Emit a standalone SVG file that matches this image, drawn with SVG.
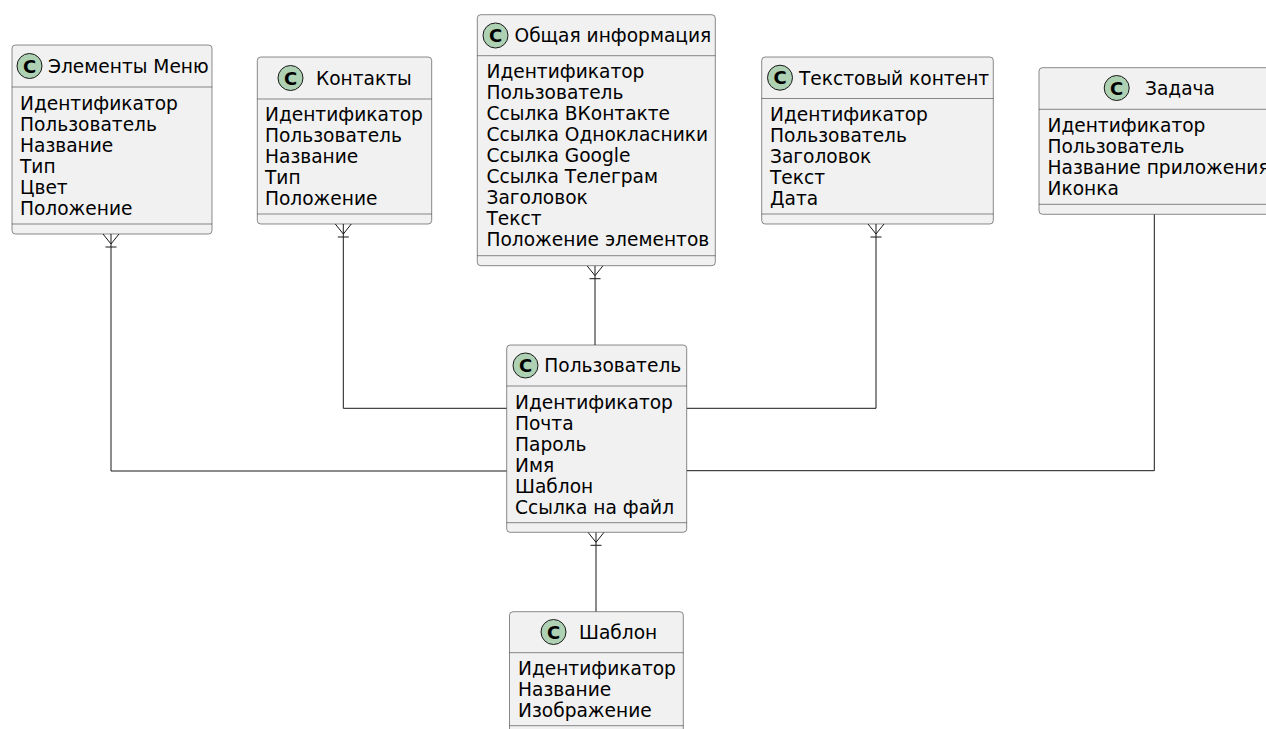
<svg xmlns="http://www.w3.org/2000/svg" width="1266" height="729" viewBox="0 0 1266 729">
<style>
.box{fill:#F1F1F1;stroke:#181818;stroke-width:0.5;}
.div{stroke:#181818;stroke-width:0.5;}
.spot{fill:#ADD1B2;stroke:#181818;stroke-width:1;}
.c{font-family:"DejaVu Sans",sans-serif;font-size:18px;font-weight:bold;fill:#000;text-anchor:middle;}
.t{font-family:"DejaVu Sans",sans-serif;font-size:18.6px;fill:#000;}
.ln{fill:none;stroke:#181818;stroke-width:1;}
</style>
<rect width="1266" height="729" fill="#FFFFFF"/>
<g id="connectors">
<path class="ln" d="M111,234 V471 H506.7"/>
<path class="ln" d="M343.3,224 V408.3 H506.7"/>
<path class="ln" d="M595,265.7 V345"/>
<path class="ln" d="M876,224 V408.3 H686.7"/>
<path class="ln" d="M1154.3,214.3 V470.7 H686.7"/>
<path class="ln" d="M596,532.3 V611.7"/>
<path class="ln" d="M103,234 L111,244 L119,234 M105.5,247 H116.5"/>
<path class="ln" d="M335.3,224 L343.3,234 L351.3,224 M337.8,237 H348.8"/>
<path class="ln" d="M587,265.7 L595,275.7 L603,265.7 M589.5,278.7 H600.5"/>
<path class="ln" d="M868,224 L876,234 L884,224 M870.5,237 H881.5"/>
<path class="ln" d="M588,532.3 L596,542.3 L604,532.3 M590.5,545.3 H601.5"/>
</g>
<g id="menu">
<rect class="box" x="12" y="45" width="200" height="189" rx="3.5"/>
<line class="div" x1="12" y1="87" x2="212" y2="87"/>
<line class="div" x1="12" y1="224" x2="212" y2="224"/>
<circle class="spot" cx="29.5" cy="66" r="12.5"/>
<text class="c" x="29.5" y="72.5">C</text>
<text class="t" x="48" y="72.5">Элементы Меню</text>
<text class="t" x="20" y="109.5">Идентификатор</text>
<text class="t" x="20" y="130.5">Пользователь</text>
<text class="t" x="20" y="151.5">Название</text>
<text class="t" x="20" y="172.5">Тип</text>
<text class="t" x="20" y="193.5">Цвет</text>
<text class="t" x="20" y="214.5">Положение</text>
</g>
<g id="contacts">
<rect class="box" x="257.3" y="57" width="174.4" height="167" rx="3.5"/>
<line class="div" x1="257.3" y1="99" x2="431.7" y2="99"/>
<line class="div" x1="257.3" y1="214" x2="431.7" y2="214"/>
<circle class="spot" cx="290.5" cy="78" r="12.5"/>
<text class="c" x="290.5" y="84.5">C</text>
<text class="t" x="316" y="84.5">Контакты</text>
<text class="t" x="265" y="121">Идентификатор</text>
<text class="t" x="265" y="142">Пользователь</text>
<text class="t" x="265" y="163">Название</text>
<text class="t" x="265" y="184">Тип</text>
<text class="t" x="265" y="205">Положение</text>
</g>
<g id="general">
<rect class="box" x="477.3" y="14.7" width="238" height="251" rx="3.5"/>
<line class="div" x1="477.3" y1="55.7" x2="715.3" y2="55.7"/>
<line class="div" x1="477.3" y1="255.7" x2="715.3" y2="255.7"/>
<circle class="spot" cx="495.5" cy="35.5" r="12.5"/>
<text class="c" x="495.5" y="42">C</text>
<text class="t" x="514.5" y="42">Общая информация</text>
<text class="t" x="486.5" y="78">Идентификатор</text>
<text class="t" x="486.5" y="99">Пользователь</text>
<text class="t" x="486.5" y="120">Ссылка ВКонтакте</text>
<text class="t" x="486.5" y="141">Ссылка Однокласники</text>
<text class="t" x="486.5" y="162">Ссылка Google</text>
<text class="t" x="486.5" y="183">Ссылка Телеграм</text>
<text class="t" x="486.5" y="204">Заголовок</text>
<text class="t" x="486.5" y="225">Текст</text>
<text class="t" x="486.5" y="246">Положение элементов</text>
</g>
<g id="textcontent">
<rect class="box" x="761.7" y="57" width="231.6" height="167" rx="3.5"/>
<line class="div" x1="761.7" y1="98.5" x2="993.3" y2="98.5"/>
<line class="div" x1="761.7" y1="214" x2="993.3" y2="214"/>
<circle class="spot" cx="780" cy="77.7" r="12.5"/>
<text class="c" x="780" y="84.2">C</text>
<text class="t" x="799" y="84.5">Текстовый контент</text>
<text class="t" x="770" y="121">Идентификатор</text>
<text class="t" x="770" y="142">Пользователь</text>
<text class="t" x="770" y="163">Заголовок</text>
<text class="t" x="770" y="184">Текст</text>
<text class="t" x="770" y="205">Дата</text>
</g>
<g id="task">
<rect class="box" x="1039" y="67.7" width="240" height="146.6" rx="3.5"/>
<line class="div" x1="1039" y1="109.3" x2="1279" y2="109.3"/>
<line class="div" x1="1039" y1="204.3" x2="1279" y2="204.3"/>
<circle class="spot" cx="1116.7" cy="88" r="12.5"/>
<text class="c" x="1116.7" y="94.5">C</text>
<text class="t" x="1145" y="94.5">Задача</text>
<text class="t" x="1047.5" y="131.5">Идентификатор</text>
<text class="t" x="1047.5" y="152.5">Пользователь</text>
<text class="t" x="1047.5" y="173.5">Название приложения</text>
<text class="t" x="1047.5" y="194.5">Иконка</text>
</g>
<g id="user">
<rect class="box" x="506.7" y="345" width="180" height="187.3" rx="3.5"/>
<line class="div" x1="506.7" y1="386" x2="686.7" y2="386"/>
<line class="div" x1="506.7" y1="522.7" x2="686.7" y2="522.7"/>
<circle class="spot" cx="525.5" cy="365.5" r="12.5"/>
<text class="c" x="525.5" y="372">C</text>
<text class="t" x="544.3" y="372">Пользователь</text>
<text class="t" x="515" y="408.5">Идентификатор</text>
<text class="t" x="515" y="429.5">Почта</text>
<text class="t" x="515" y="450.5">Пароль</text>
<text class="t" x="515" y="471.5">Имя</text>
<text class="t" x="515" y="492.5">Шаблон</text>
<text class="t" x="515" y="513.5">Ссылка на файл</text>
</g>
<g id="template">
<rect class="box" x="509.5" y="611.7" width="173.8" height="124" rx="3.5"/>
<line class="div" x1="509.5" y1="652.7" x2="683.3" y2="652.7"/>
<line class="div" x1="509.5" y1="725.7" x2="683.3" y2="725.7"/>
<circle class="spot" cx="553.5" cy="632" r="12.5"/>
<text class="c" x="553.5" y="638.5">C</text>
<text class="t" x="579" y="638.5">Шаблон</text>
<text class="t" x="518" y="675">Идентификатор</text>
<text class="t" x="518" y="696">Название</text>
<text class="t" x="518" y="717">Изображение</text>
</g>
</svg>
